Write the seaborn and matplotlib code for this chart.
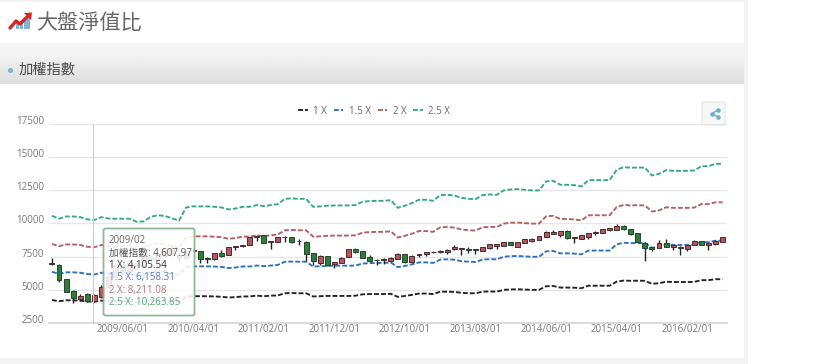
import numpy as np
import pandas as pd
import matplotlib
matplotlib.use("Agg")
import matplotlib.pyplot as plt
import matplotlib.patches as mpatches
from matplotlib.transforms import ScaledTranslation
import seaborn as sns

# month axis, 2008/08 to 2016/07
months = pd.date_range("2008-08-01", periods=96, freq="MS").strftime("%Y/%m/%d").tolist()
tick_pos = [10, 20, 30, 40, 50, 60, 70, 80, 90]
y_ticks = [2500, 5000, 7500, 10000, 12500, 15000, 17500]

# net value lines
x1 = [4230,4140,4210,4210,4190,4120,4106,4190,4150,4140,4140,4140,4050,4060,4200,4250,4220,4160,4080,4480,
      4520,4520,4520,4500,4480,4420,4450,4500,4500,4560,4520,4560,4580,4740,4760,4740,4740,4500,4520,4540,
      4540,4540,4540,4560,4660,4680,4680,4680,4700,4470,4540,4620,4720,4720,4680,4860,4860,4840,4780,4740,
      4740,4860,4880,4860,5000,5030,5040,5020,5000,5000,5270,5290,5170,5170,5160,5120,5310,5310,5310,5310,
      5620,5700,5680,5690,5680,5450,5500,5610,5590,5590,5590,5600,5730,5730,5800,5800]
x15 = [6350,6220,6320,6320,6290,6190,6158,6290,6230,6220,6220,6220,6080,6100,6300,6380,6340,6240,6130,6730,
       6770,6770,6770,6760,6730,6640,6680,6760,6760,6830,6790,6830,6880,7120,7130,7120,7120,6760,6770,6800,
       6820,6820,6820,6830,6980,7010,7030,7030,7060,6710,6800,6920,7070,7070,7030,7280,7300,7270,7160,7120,
       7100,7280,7310,7300,7490,7540,7550,7520,7490,7490,7900,7930,7750,7750,7730,7670,7960,7960,7960,7960,
       8430,8550,8520,8530,8520,8170,8240,8410,8380,8380,8380,8400,8590,8590,8700,8700]
x2 = [8460,8290,8420,8420,8380,8250,8211,8380,8300,8290,8290,8290,8100,8130,8400,8500,8450,8320,8170,8970,
      9030,9030,9030,9010,8970,8850,8900,9010,9010,9110,9050,9110,9170,9490,9510,9490,9490,9010,9030,9070,
      9090,9090,9090,9110,9310,9350,9370,9370,9410,8940,9070,9230,9430,9430,9370,9710,9730,9690,9550,9490,
      9470,9710,9750,9730,9990,10060,10070,10030,9990,9990,10540,10580,10340,10340,10310,10230,10620,10620,10620,10620,
      11240,11400,11360,11380,11360,10900,10990,11220,11180,11180,11180,11200,11460,11460,11600,11600]
x25 = [10580,10360,10530,10530,10480,10310,10264,10480,10380,10360,10360,10360,10130,10160,10500,10630,10560,10400,10210,11210,
       11290,11290,11290,11260,11210,11060,11130,11260,11260,11390,11310,11390,11460,11860,11890,11860,11860,11260,11290,11340,
       11360,11360,11360,11390,11640,11690,11710,11710,11760,11180,11340,11540,11790,11790,11710,12140,12160,12110,11940,11860,
       11840,12140,12190,12160,12490,12570,12590,12540,12490,12490,13170,13220,12920,12920,12890,12790,13270,13270,13270,13270,
       14050,14250,14200,14220,14200,13620,13740,14020,13970,13970,13970,14000,14320,14320,14500,14500]

# index candles
opens = [6950,6890,5813,4935,4333,4683,4180,4483,5210,6000,6890,6432,6995,6825,7509,7340,7582,8188,7640,7436,
         7920,7947,7374,7300,7800,7600,8240,8300,8372,9000,9150,8600,8625,8950,8950,8700,8600,7795,7020,7520,
         6950,7043,7445,8097,7897,7445,7270,7260,7194,7345,7670,7070,7600,7670,7850,7850,7850,8050,8100,8050,
         8050,7950,8120,8300,8330,8600,8220,8550,8700,8750,9020,9230,9150,9450,8875,8850,8950,9250,9280,9500,
         9500,9800,9600,9250,8550,8200,8175,8550,8250,8250,8070,8370,8670,8350,8450,8625]
closes = [7000,5738,4860,4408,4533,4132,4608,5186,5992,6890,6432,6995,6825,7509,7340,7582,8188,7640,7436,7920,
          8004,7319,7329,7760,7545,8223,8300,8372,8975,9070,8549,8650,8950,9000,8625,8650,7720,7194,7570,6842,
          7068,7420,8072,7822,7420,7194,7220,7300,7395,7696,7093,7570,7670,7820,7880,7920,8020,8250,8150,8000,
          8020,8200,8420,8420,8600,8400,8575,8800,8800,9050,9375,9350,9400,8875,9000,9150,9280,9380,9600,9650,
          9830,9600,9230,8625,8175,8100,8550,8250,8350,8130,8370,8700,8370,8500,8700,9000]
highs = [7370,6950,5813,5000,4683,4784,4700,5400,6050,7000,7000,7050,7100,7600,7600,7700,8250,8400,7700,7950,
         8150,7947,7495,7780,8000,8250,8300,8400,8975,9150,9150,8675,9000,9050,9000,8800,8650,7800,7620,7540,
         7080,7450,8100,8120,7900,7620,7300,7370,7500,7750,7700,7600,7720,7850,7950,7980,8050,8370,8170,8200,
         8080,8230,8450,8430,8620,8620,8600,8850,8900,9080,9400,9500,9420,9480,9020,9170,9300,9420,9620,9680,
         9950,9850,9620,9280,8600,8230,8750,8850,8370,8270,8390,8720,8700,8520,8720,9020]
lows = [6842,5588,4800,3980,4180,4080,4100,4400,5150,5950,6300,6350,6600,6750,7100,7300,7550,7550,7100,7400,
        7850,7043,7043,7250,7500,7590,8000,8200,8370,8700,8500,8047,8600,8640,8550,8370,7165,6870,6870,6800,
        6615,7040,7440,7800,7400,7070,6890,6950,7120,7300,7050,7050,7500,7550,7800,7800,7700,8000,7620,7800,
        7700,7930,8100,8050,8300,8380,8200,8530,8620,8730,9000,9200,8990,8850,8500,8800,8850,9100,9270,9450,
        9480,9500,9150,8600,7194,7900,8150,8220,8000,7620,7950,8350,8350,8000,8400,8600]

legend_labels = ["1 X", "1.5 X", "2 X", "2.5 X"]
line_colors = ["#222222", "#2f6fc0", "#b25f5f", "#33a888"]

tooltip_lines = ["2009/02", "加權指數: 4,607.97", "1 X: 4,105.54", "1.5 X: 6,158.31", "2 X: 8,211.08", "2.5 X: 10,263.85"]
tooltip_colors = ["#666666", "#555555", "#333333", "#5577c0", "#b87070", "#55a878"]

sns.set_theme(style="white")
cjk = ["Noto Sans CJK TC", "DejaVu Sans"]
plt.rcParams["font.family"] = ["Open Sans", "Noto Sans CJK TC", "DejaVu Sans"]

W, H = 820, 364
fig = plt.figure(figsize=(W / 100, H / 100), dpi=100, facecolor="white")

# page furniture, in pixel coordinates
bg = fig.add_axes([0, 0, 1, 1], zorder=0)
bg.axis("off")
bg.add_patch(mpatches.Rectangle((0, 0), 748, H, fc="#f3f3f3", ec="none"))
bg.add_patch(mpatches.Rectangle((0, 2), 744, 41, fc="white", ec="none"))
bg.add_patch(mpatches.Rectangle((0, 84), 744, 274, fc="white", ec="none"))
grad = np.linspace(0.95, 0.87, 40).reshape(-1, 1)
bg.imshow(grad, extent=(0, 744, 84, 55), cmap="gray", vmin=0, vmax=1, aspect="auto", zorder=1)
bg.set_xlim(0, W)
bg.set_ylim(H, 0)

# title icon
for bx, bh in zip([16, 20, 24, 27], [6, 8, 10, 13]):
    bg.add_patch(mpatches.Rectangle((bx, 29 - bh), 2.6, bh, fc="#7fb6d6", ec="none", zorder=2))
bg.plot([10, 16, 20, 29], [28, 21, 24, 15], color="#d92525", lw=2.4, zorder=3)
bg.add_patch(mpatches.Polygon([[24, 13], [32, 12.5], [31, 20]], fc="#d92525", ec="none", zorder=3))
bg.text(36, 23, "大盤淨值比", fontsize=15.2, color="#666666", family=cjk, va="center", ha="left")
bg.scatter([10], [70], s=7, color="#7fb6cc", zorder=3)
bg.text(19, 70, "加權指數", fontsize=10.3, color="#4c4c4c", family=cjk, va="center", ha="left", zorder=3)

# share button
bg.add_patch(mpatches.FancyBboxPatch((702, 102), 23, 23, boxstyle="round,pad=0,rounding_size=1.5",
                                     fc="#f7f7f7", ec="#e4e4e4", lw=0.8, zorder=2))
bg.plot([718, 712, 718], [110, 113.5, 117], color="#6fb0cc", lw=1.1, zorder=3)
bg.scatter([718, 712, 718], [110, 113.5, 117], s=5, color="#6fb0cc", zorder=3)

# chart axes
ax = fig.add_axes([49 / W, 1 - 323 / H, (727 - 49) / W, (323 - 124) / H], zorder=2)
ax.patch.set_alpha(0)

df = pd.DataFrame({"idx": np.arange(len(months)), legend_labels[0]: x1, legend_labels[1]: x15,
                   legend_labels[2]: x2, legend_labels[3]: x25})
long_df = df.melt(id_vars="idx", var_name="series", value_name="value")
sns.lineplot(data=long_df, x="idx", y="value", hue="series", palette=line_colors, ax=ax,
             linewidth=1.35, zorder=3, estimator=None)
for line in ax.get_lines():
    line.set_dashes((2.6, 1.1))

idx = np.arange(len(months))
o = np.array(opens)
c = np.array(closes)
up = c >= o
ax.vlines(idx, lows, highs, color="#222222", lw=1.0, zorder=4)
ax.bar(idx[up], (c - o)[up], bottom=o[up], width=0.7, color="#b5575f", edgecolor="#4a2a2e", linewidth=0.7, zorder=5)
ax.bar(idx[~up], (o - c)[~up], bottom=c[~up], width=0.7, color="#2f7d3a", edgecolor="#24452b", linewidth=0.7, zorder=5)

ax.set_xlim(-0.42, 95.63)
ax.set_ylim(2500, 17500)
ax.set_yticks(y_ticks)
ax.set_xticks(tick_pos)
ax.set_xticklabels([months[i] for i in tick_pos])
ax.set_xlabel("")
ax.set_ylabel("")
ax.grid(axis="y", color="#e6e6e6", lw=0.9, zorder=0)
ax.grid(axis="x", visible=False)
ax.set_axisbelow(True)
for s in ["top", "left", "right"]:
    ax.spines[s].set_visible(False)
ax.spines["bottom"].set_color("#d5d5d5")
ax.tick_params(axis="x", length=0, pad=1, labelsize=7.0, labelcolor="#777777")
ax.tick_params(axis="y", length=0, pad=3.5, labelsize=7.0, labelcolor="#777777")
# y labels sit just above their grid lines
lift = ScaledTranslation(0, 4 / 100, fig.dpi_scale_trans)
for lab in ax.get_yticklabels():
    lab.set_transform(lab.get_transform() + lift)

handles = ax.get_legend().legend_handles
for h in handles:
    h.set_dashes((2.6, 1.1))
ax.get_legend().remove()
leg = ax.legend(handles, legend_labels, loc="center", bbox_to_anchor=((374 - 49) / 678, (323 - 111) / 199),
                ncol=4, frameon=False, fontsize=7.0, handlelength=1.0, handletextpad=0.55,
                columnspacing=0.7, labelcolor="#666666", borderpad=0)

# tooltip and crosshair on top
top = fig.add_axes([0, 0, 1, 1], zorder=3)
top.set_xlim(0, W)
top.set_ylim(H, 0)
top.axis("off")
top.patch.set_alpha(0)
top.plot([93.5, 93.5], [124, 323], color="#cccccc", lw=0.8, zorder=1)
top.add_patch(mpatches.FancyBboxPatch((103.5, 228.5), 91, 87, boxstyle="round,pad=0,rounding_size=2",
                                      fc="white", ec="#7fae8c", lw=1.3, alpha=0.88, zorder=2))
for k, (txt, col) in enumerate(zip(tooltip_lines, tooltip_colors)):
    top.text(109, 240.5 + k * 12.4, txt, fontsize=7.0, color=col, va="center", ha="left", zorder=3,
             family=["Open Sans", "Noto Sans CJK TC", "DejaVu Sans"])

fig.savefig("out.png", dpi=100)
